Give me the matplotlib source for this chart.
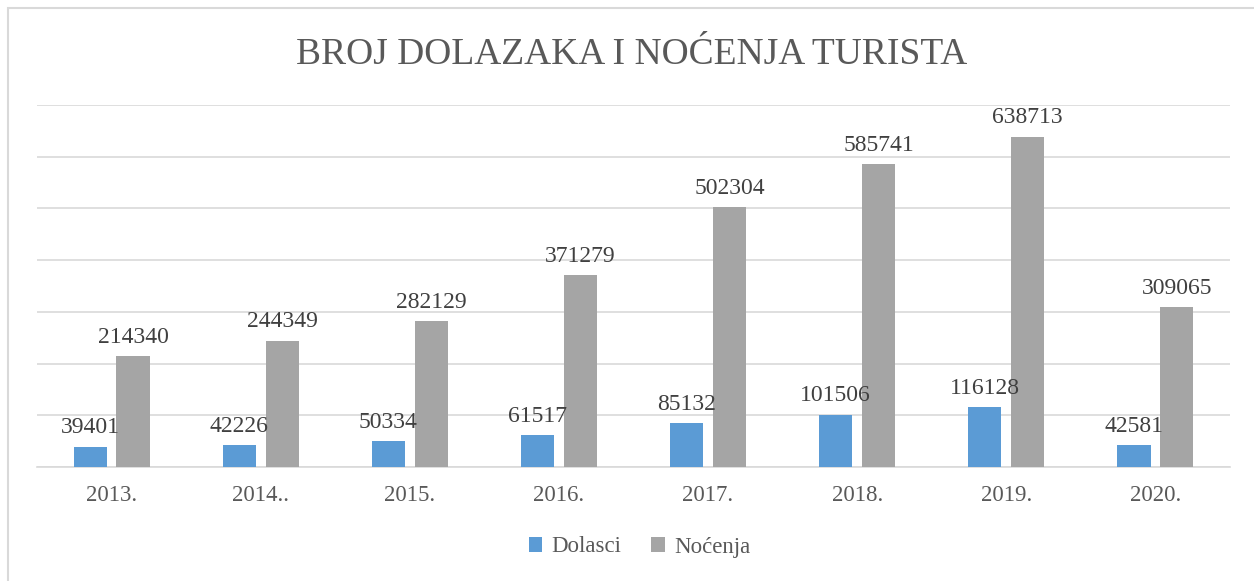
import matplotlib.pyplot as plt
from matplotlib.patches import Rectangle
import numpy as np

years = ["2013.", "2014..", "2015.", "2016.", "2017.", "2018.", "2019.", "2020."]
dolasci = [39401, 42226, 50334, 61517, 85132, 101506, 116128, 42581]
nocenja = [214340, 244349, 282129, 371279, 502304, 585741, 638713, 309065]

blue = '#5B9BD5'
gray = '#A5A5A5'
text_col = '#595959'
label_col = '#404040'
grid_col = '#D9D9D9'

plt.rcParams['font.family'] = ['Liberation Serif', 'DejaVu Serif']

fig = plt.figure(figsize=(12.54, 5.81), dpi=100)
ax = fig.add_axes([37 / 1254, 1 - 467 / 581, (1230 - 37) / 1254, (467 - 105) / 581])

# chart border (right/bottom run off the picture)
fig.patches.append(Rectangle((8 / 1254, -0.05), 1.2, 1 - 8 / 581 + 0.05,
                             transform=fig.transFigure, fill=False,
                             edgecolor=grid_col, linewidth=1.5))

x = np.arange(len(years))
width = 0.222
offset = 0.144
b1 = ax.bar(x - offset, dolasci, width, color=blue, label='Dolasci', zorder=3)
b2 = ax.bar(x + offset, nocenja, width, color=gray, label='Noćenja', zorder=3)

for bars, vals in ((b1, dolasci), (b2, nocenja)):
    for rect, v in zip(bars, vals):
        ax.annotate(str(v), (rect.get_x() + rect.get_width() / 2, rect.get_height()),
                    xytext=(0, 6), textcoords='offset points', ha='center', va='bottom',
                    fontsize=17, color=label_col, zorder=4)

ax.set_ylim(0, 700000)
ax.set_xlim(-0.5, len(years) - 0.5)
ax.set_yticks(np.arange(0, 700001, 100000))
ax.yaxis.grid(True, color=grid_col, linewidth=1.2, zorder=0)
ax.tick_params(axis='y', left=False, labelleft=False)
ax.set_xticks(x)
ax.set_xticklabels(years, fontsize=16.5, color=text_col)
ax.tick_params(axis='x', length=0, pad=13)
for side in ('top', 'right', 'left'):
    ax.spines[side].set_visible(False)
ax.spines['bottom'].set_color(grid_col)
ax.spines['bottom'].set_linewidth(1.2)

fig.text(0.504, 1 - 64 / 581, 'BROJ DOLAZAKA I NOĆENJA TURISTA', ha='center', va='baseline',
         fontsize=27, color=text_col)

fig.legend(loc='center', bbox_to_anchor=(0.51, 1 - 547 / 581), ncol=2, frameon=False,
           fontsize=16.5, labelcolor=text_col, handlelength=0.6, handleheight=0.6,
           handletextpad=0.4, columnspacing=1.3)

fig.savefig('out.png', dpi=100)
